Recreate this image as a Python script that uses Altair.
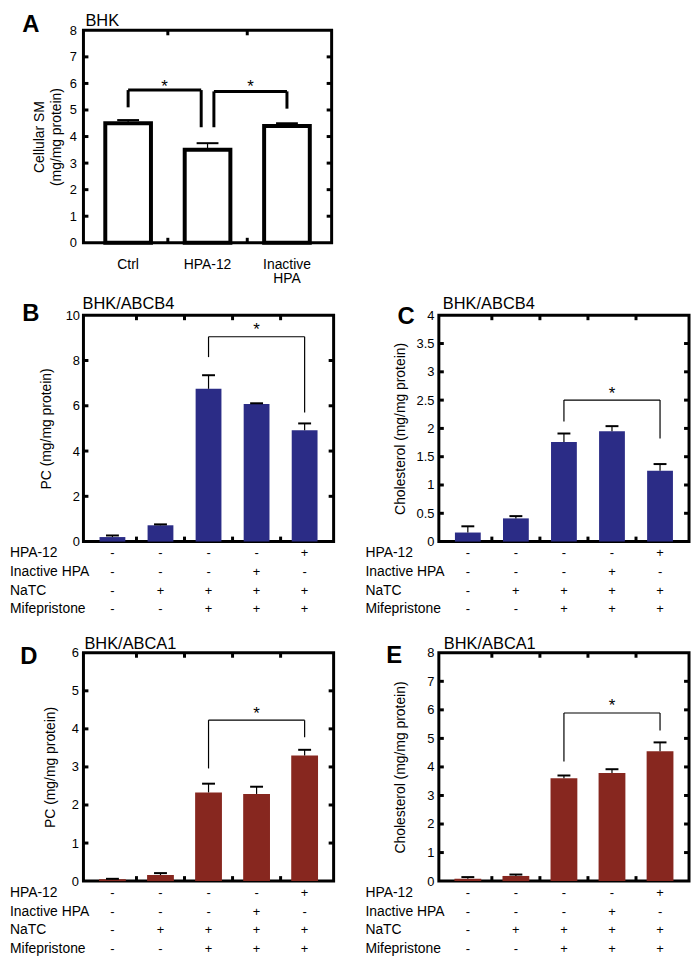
import altair as alt
import pandas as pd

FONT = "Liberation Sans"
BLUE = "#2b2c86"
RED = "#87271f"

# ---------------- data ----------------
# Panel A (BHK, cellular SM)
a_categories = ["Ctrl", "HPA-12", "Inactive\nHPA"]
a_values = [4.5, 3.5, 4.4]
a_errors = [0.12, 0.25, 0.1]
a_bracket_x = [[1.0, 1.92], [2.08, 3.0]]
a_bracket_y = [[5.1, 4.35], [4.35, 5.05]]
a_bracket_top = [5.75, 5.7]
a_star_y = [6.0, 6.0]

# Treatment table (same for B-E)
treat_rows = ["HPA-12", "Inactive HPA", "NaTC", "Mifepristone"]
treat_signs = [
    ["-", "-", "-", "-", "+"],
    ["-", "-", "-", "+", "-"],
    ["-", "+", "+", "+", "+"],
    ["-", "-", "+", "+", "+"],
]

# Panel B (BHK/ABCB4, PC)
b_values = [0.2, 0.72, 6.75, 6.08, 4.92]
b_errors = [0.07, 0.04, 0.6, 0.03, 0.3]
b_bracket_x = [[3, 5]]
b_bracket_y = [[8.15, 5.7]]
b_bracket_top = [9.05]
b_star_y = [9.5]

# Panel C (BHK/ABCB4, cholesterol)
c_values = [0.16, 0.41, 1.76, 1.95, 1.25]
c_errors = [0.11, 0.04, 0.15, 0.09, 0.12]
c_bracket_x = [[3, 5]]
c_bracket_y = [[2.12, 1.82]]
c_bracket_top = [2.5]
c_star_y = [2.67]

# Panel D (BHK/ABCA1, PC)
d_values = [0.05, 0.16, 2.33, 2.29, 3.3]
d_errors = [0.01, 0.05, 0.23, 0.19, 0.15]
d_bracket_x = [[3, 5]]
d_bracket_y = [[2.96, 3.78]]
d_bracket_top = [4.23]
d_star_y = [4.5]

# Panel E (BHK/ABCA1, cholesterol)
e_values = [0.08, 0.18, 3.6, 3.79, 4.55]
e_errors = [0.06, 0.05, 0.1, 0.13, 0.31]
e_bracket_x = [[3, 5]]
e_bracket_y = [[4.19, 5.28]]
e_bracket_top = [5.89]
e_star_y = [6.26]


def text_layer(txt, x, y, size, weight="normal", align="left", baseline="alphabetic"):
    return alt.Chart(pd.DataFrame({"t": [txt]})).mark_text(
        font=FONT, fontSize=size, fontWeight=weight, align=align,
        baseline=baseline, color="black"
    ).encode(text="t:N", x=alt.value(x), y=alt.value(y))


def panel(letter, title, ytitle, values, errors, ymax, ystep,
          brk_x, brk_y, brk_top, star_y, W, H, fill, bar_size, cap, brk_w,
          letter_xy, title_xy, ytitle_x, label_pad, categories=None):
    n = len(values)
    xs = alt.Scale(domain=[0.5, n + 0.5], nice=False, zero=False)
    ys = alt.Scale(domain=[0, ymax], nice=False, zero=True)
    df = pd.DataFrame({
        "x": list(range(1, n + 1)),
        "v": values,
        "e": [v + e for v, e in zip(values, errors)],
    })
    nt = int(round(ymax / ystep))
    tick_vals = [round(i * ystep, 3) for i in range(nt + 1)]

    yaxis = alt.Axis(values=tick_vals, format=".1~f", ticks=False, domain=False, grid=False,
                     labelFont=FONT, labelFontSize=13, labelColor="black",
                     labelPadding=label_pad, title=ytitle, titleFont=FONT,
                     titleFontSize=14, titleFontWeight="normal", titleColor="black",
                     titleX=ytitle_x, titleY=H / 2, titleAngle=270, titleLineHeight=17,
                     titleAlign="center", titleBaseline="middle")

    def Y(field):
        return alt.Y(field, scale=ys, axis=yaxis)

    def X(field):
        return alt.X(field, scale=xs, axis=None)

    if fill is None:
        bar_mark = alt.Chart(df).mark_bar(fill="white", stroke="black", strokeWidth=4,
                                          size=bar_size, orient="vertical")
    else:
        bar_mark = alt.Chart(df).mark_bar(color=fill, size=bar_size, orient="vertical")
    bars = bar_mark.encode(x=X("x:Q"), y=Y("v:Q"))

    err_line = alt.Chart(df).mark_rule(color="black", strokeWidth=1.2).encode(
        x=X("x:Q"), y=Y("v:Q"), y2="e:Q")
    err_cap = alt.Chart(df).mark_rule(color="black", strokeWidth=2,
                                      xOffset=-cap / 2, x2Offset=cap / 2).encode(
        x=X("x:Q"), x2="x:Q", y=Y("e:Q"))

    # inner frame ticks
    tdf = pd.DataFrame({"t": tick_vals[1:-1]})
    left_t = alt.Chart(tdf).mark_rule(color="black", strokeWidth=3).encode(
        y=Y("t:Q"), x=alt.value(0), x2=alt.value(5))
    right_t = alt.Chart(tdf).mark_rule(color="black", strokeWidth=3).encode(
        y=Y("t:Q"), x=alt.value(W - 5), x2=alt.value(W))
    bdf = pd.DataFrame({"b": [i + 0.5 for i in range(1, n)]})
    top_t = alt.Chart(bdf).mark_rule(color="black", strokeWidth=3).encode(
        x=X("b:Q"), y=alt.value(0), y2=alt.value(5))
    bot_t = alt.Chart(bdf).mark_rule(color="black", strokeWidth=3).encode(
        x=X("b:Q"), y=alt.value(H - 5), y2=alt.value(H))

    # significance brackets
    segs = []
    stars = []
    for (xl, xr), (yl, yr), top, sy in zip(brk_x, brk_y, brk_top, star_y):
        segs.append({"x": xl, "x2": xl, "y": yl, "y2": top})
        segs.append({"x": xl, "x2": xr, "y": top, "y2": top})
        segs.append({"x": xr, "x2": xr, "y": yr, "y2": top})
        stars.append({"x": (xl + xr) / 2, "y": sy, "s": "*"})
    brk = alt.Chart(pd.DataFrame(segs)).mark_rule(color="black", strokeWidth=brk_w).encode(
        x=X("x:Q"), x2="x2:Q", y=Y("y:Q"), y2="y2:Q")
    star = alt.Chart(pd.DataFrame(stars)).mark_text(
        font=FONT, fontSize=17, color="black", baseline="alphabetic", dy=9).encode(
        x=X("x:Q"), y=Y("y:Q"), text="s:N")

    layers = [bars, err_line, err_cap, left_t, right_t, top_t, bot_t, brk, star,
              text_layer(letter, letter_xy[0], letter_xy[1], 24, "bold", "center"),
              text_layer(title, title_xy[0], title_xy[1], 16.5)]

    if categories is not None:
        cdf = pd.DataFrame({"x": list(range(1, n + 1)), "c": categories})
        cat = alt.Chart(cdf).mark_text(font=FONT, fontSize=14, color="black",
                                       lineBreak="\n", baseline="middle", lineHeight=15).encode(
            x=X("x:Q"), y=alt.value(H + 22), text="c:N")
        layers.append(cat)
        return alt.layer(*layers).properties(width=W, height=H)

    recs = []
    for r, row in enumerate(treat_rows):
        for i, s in enumerate(treat_signs[r]):
            recs.append({"row": row, "x": i + 1, "s": s})
    rscale = alt.Scale(domain=treat_rows, range=[H + 12, H + 68], padding=0)
    signs = alt.Chart(pd.DataFrame(recs)).mark_text(
        font=FONT, fontSize=13, color="black", baseline="middle").encode(
        x=X("x:Q"), y=alt.Y("row:N", scale=rscale, axis=None), text="s:N")
    rlabels = alt.Chart(pd.DataFrame({"row": treat_rows})).mark_text(
        font=FONT, fontSize=14, color="black", align="left", baseline="middle").encode(
        x=alt.value(-74), y=alt.Y("row:N", scale=rscale, axis=None), text="row:N")
    main = alt.layer(*layers)
    table = alt.layer(signs, rlabels)
    return alt.layer(main, table).resolve_scale(y="independent").properties(width=W, height=H)


pA = panel("A", "BHK", ["Cellular SM", "(mg/mg protein)"], a_values, a_errors, 8, 1,
           a_bracket_x, a_bracket_y, a_bracket_top, a_star_y, 250, 214, None, 46, 22, 3,
           (-53, 2), (2, -4), -44, 7, categories=a_categories)
pB = panel("B", "BHK/ABCB4", "PC (mg/mg protein)", b_values, b_errors, 10, 2,
           b_bracket_x, b_bracket_y, b_bracket_top, b_star_y, 252, 228, BLUE, 26, 13, 1.2,
           (-53, 6), (-1, -6), -37, 4)
pC = panel("C", "BHK/ABCB4", "Cholesterol (mg/mg protein)", c_values, c_errors, 4, 0.5,
           c_bracket_x, c_bracket_y, c_bracket_top, c_star_y, 252, 228, BLUE, 26, 13, 1.2,
           (-33, 9), (4, -6), -39, 5)
pD = panel("D", "BHK/ABCA1", "PC (mg/mg protein)", d_values, d_errors, 6, 1,
           d_bracket_x, d_bracket_y, d_bracket_top, d_star_y, 252, 230, RED, 27, 13, 1.2,
           (-55, 11), (1, -4), -33, 5)
pE = panel("E", "BHK/ABCA1", "Cholesterol (mg/mg protein)", e_values, e_errors, 8, 1,
           e_bracket_x, e_bracket_y, e_bracket_top, e_star_y, 252, 230, RED, 27, 13, 1.2,
           (-45, 10), (5, -4), -39, 5)

top = alt.vconcat(pA, alt.hconcat(pB, pC, spacing=106, bounds="flush"),
                  spacing=73, bounds="flush")
chart = alt.vconcat(top, alt.hconcat(pD, pE, spacing=106, bounds="flush"),
                    spacing=16, bounds="full").properties(padding=0).configure_view(
    stroke="black", strokeWidth=3)

chart.save("out.html", embed_options={"renderer": "svg", "actions": False})
